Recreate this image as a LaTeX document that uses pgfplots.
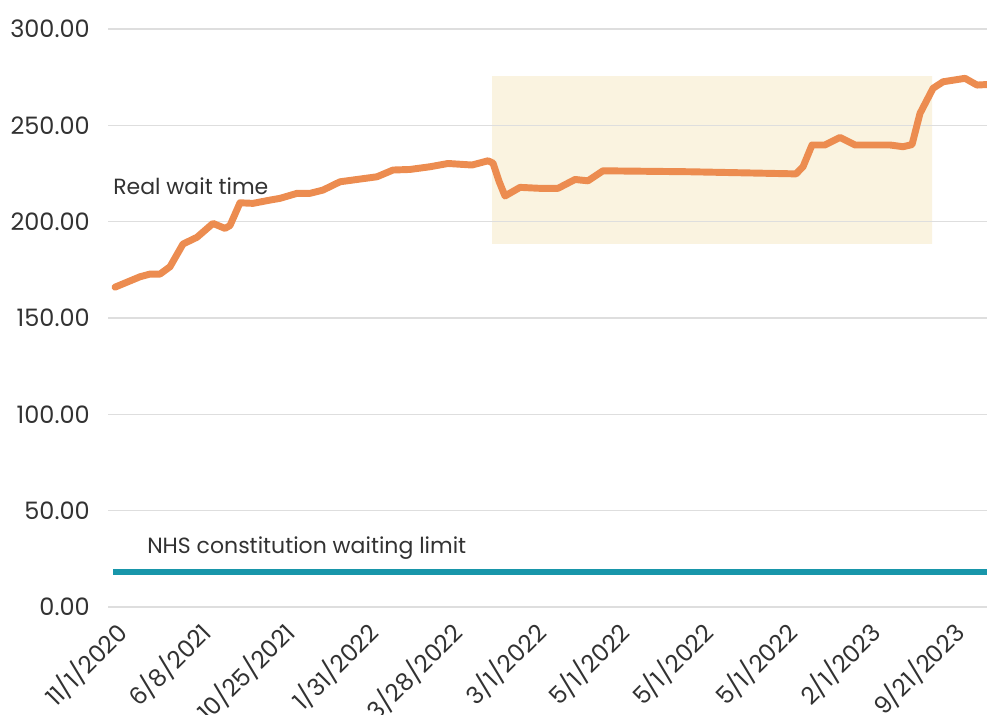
\documentclass[border=0pt]{standalone}
\usepackage{pgfplots}
\pgfplotsset{compat=1.18}
\usepackage{fontspec}
\setmainfont{Poppins}
\definecolor{waitorange}{RGB}{236,140,80}
\definecolor{limitteal}{RGB}{24,150,170}
\definecolor{boxbeige}{RGB}{250,243,224}
\definecolor{gridgray}{RGB}{222,222,222}
\definecolor{labelgray}{RGB}{50,50,50}
\begin{document}
\begin{tikzpicture}
\begin{axis}[
  set layers,
  scale only axis,
  width=659.25pt, height=433.5pt,
  at={(0,0)}, anchor=south west,
  xmin=108, xmax=987,
  ymin=0, ymax=300,
  axis line style={draw=none},
  major tick length=0pt,
  ymajorgrids,
  grid style={gridgray, line width=0.9pt},
  ytick={0,50,100,150,200,250,300},
  /pgf/number format/fixed,
  /pgf/number format/fixed zerofill,
  /pgf/number format/precision=2,
  /pgf/number format/assume math mode=true,
  yticklabel style={font=\fontsize{18}{21}\selectfont, text=labelgray, inner sep=0pt, anchor=east, xshift=-13.5pt},
  xtick={115,198.7,282.4,366.1,449.8,533.5,617.2,700.9,784.6,868.3,952},
  xticklabels={11/1/2020,6/8/2021,10/25/2021,1/31/2022,3/28/2022,3/1/2022,5/1/2022,5/1/2022,5/1/2022,2/1/2023,9/21/2023},
  xticklabel style={font=\fontsize{18}{21}\selectfont, text=labelgray, xshift=-1.2pt, yshift=-8.5pt, rotate=45, anchor=north east, inner sep=0pt},
  clip=true,
]
\addplot[fill=boxbeige, draw=none, on layer=axis background] coordinates {
  (492,188.5) (932,188.5) (932,275.6) (492,275.6) (492,188.5)};
\addplot[limitteal, line width=4.6pt] coordinates {(113,18) (995,18)};
\addplot[waitorange, line width=5.2pt, line join=round, line cap=round] coordinates {
(115,166.0) (140,171.4) (150,172.8) (160,172.8) (170,176.6) (183,188.4)
(197,191.9) (213,199.1) (225,196.5) (230,198.0) (240,209.8) (253,209.5)
(270,211.2) (280,212.1) (297,214.7) (310,214.7) (323,216.4) (340,220.7)
(357,221.9) (377,223.3) (393,226.8) (410,227.1) (430,228.5) (448,230.2)
(472,229.4) (488,231.6) (493,230.4) (499,221.0) (505,213.3) (520,217.8)
(540,217.3) (558,217.3) (575,221.9) (588,221.2) (603,226.4) (690,225.9)
(796,224.8) (803,228.5) (812,239.8) (825,239.8) (840,243.7) (855,239.8)
(890,239.8) (903,238.9) (912,240.0) (920,256.2) (933,269.2) (943,272.6)
(965,274.4) (977,270.9) (995,271.4)};
\node[anchor=west, inner sep=0pt, text=labelgray, font=\fontsize{16.5}{19}\selectfont] at (axis cs:113,218.5) {Real wait time};
\node[anchor=west, inner sep=0pt, text=labelgray, font=\fontsize{16.5}{19}\selectfont] at (axis cs:147,30.6) {NHS constitution waiting limit};
\end{axis}
\pgfresetboundingbox
\useasboundingbox (-81pt,-80.25pt) rectangle (659.25pt,455.25pt);
\end{tikzpicture}
\end{document}
